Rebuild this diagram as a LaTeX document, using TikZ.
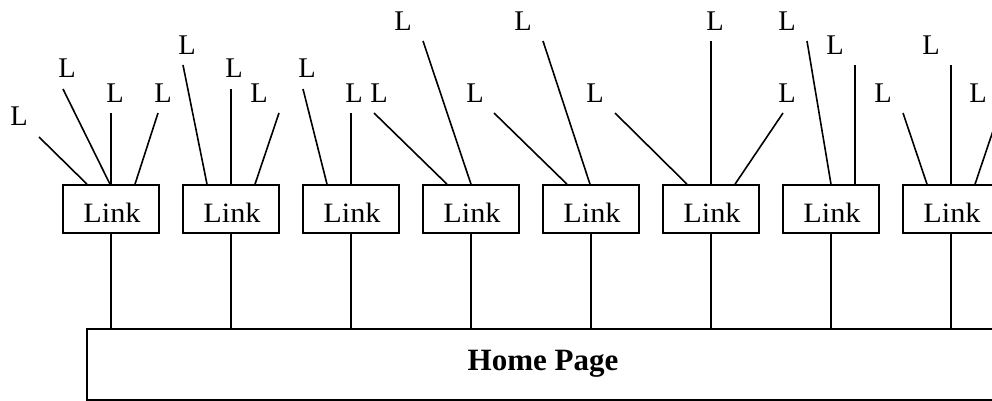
\documentclass[tikz,border=0pt]{standalone}
\usepackage{fontspec}
\setmainfont{Liberation Serif}
\begin{document}
\begin{tikzpicture}[x=1pt,y=-1pt,
  linkbox/.style={draw,line width=1.6pt,minimum width=96pt,minimum height=48pt,inner sep=0pt},
  linktext/.style={inner sep=0pt,font=\fontsize{28}{28}\selectfont},
  homebox/.style={draw,line width=1.6pt,minimum width=913pt,minimum height=71pt,inner sep=0pt},
  lbl/.style={inner sep=0pt,font=\fontsize{28.5}{28.5}\selectfont},
  leaf/.style={line width=1.6pt},
  stem/.style={line width=1.1pt}]
\useasboundingbox (0,0) rectangle (992,401);
\clip (0,0) rectangle (992,401);

% home page box (runs past the right edge)
\node[homebox] (home) at (543.5,364.5) {};
\node[inner sep=0pt,font=\fontsize{31}{31}\selectfont\bfseries] (hometext) at (543,364) {Home Page};

% link boxes
\foreach \i/\cx in {1/111,2/231,3/351,4/471,5/591,6/711,7/831,8/951}{
  \node[linkbox] (b\i) at (\cx,209) {};
  \node[linktext] (t\i) at (\cx+1,213) {\scalebox{1.08}[1]{Link}};
  \draw[stem] (b\i.south) -- (b\i.south |- home.north);
}

% leaf labels
\node[lbl] (l1a) at (19,116) {L};
\node[lbl] (l1b) at (67,68) {L};
\node[lbl] (l1c) at (115,93) {L};
\node[lbl] (l1d) at (163,93) {L};
\node[lbl] (l2a) at (187,45) {L};
\node[lbl] (l2b) at (234,68) {L};
\node[lbl] (l2c) at (259,93) {L};
\node[lbl] (l3a) at (307,68) {L};
\node[lbl] (l3b) at (354,93) {L};
\node[lbl] (l4a) at (379,93) {L};
\node[lbl] (l4b) at (403,21) {L};
\node[lbl] (l5a) at (475,93) {L};
\node[lbl] (l5b) at (523,21) {L};
\node[lbl] (l6a) at (595,93) {L};
\node[lbl] (l6b) at (715,21) {L};
\node[lbl] (l6c) at (787,93) {L};
\node[lbl] (l7a) at (787,21) {L};
\node[lbl] (l7b) at (835,45) {L};
\node[lbl] (l8a) at (883,93) {L};
\node[lbl] (l8b) at (931,45) {L};
\node[lbl] (l8c) at (978,93) {L};

% free ends of the leaf lines
\coordinate (e1a) at (39,137);
\coordinate (e1b) at (63,89);
\coordinate (e1c) at (111,113);
\coordinate (e1d) at (158,113);
\coordinate (e2a) at (183,65);
\coordinate (e2b) at (231,89);
\coordinate (e2c) at (279,113);
\coordinate (e3a) at (303,89);
\coordinate (e3b) at (351,113);
\coordinate (e4a) at (374,113);
\coordinate (e4b) at (423,41);
\coordinate (e5a) at (494,113);
\coordinate (e5b) at (543,41);
\coordinate (e6a) at (615,113);
\coordinate (e6b) at (711,41);
\coordinate (e6c) at (783,113);
\coordinate (e7a) at (807,41);
\coordinate (e7b) at (855,65);
\coordinate (e8a) at (903,113);
\coordinate (e8b) at (951,65);
\coordinate (e8c) at (999,113);

% leaf lines into the top of each link box
\draw[leaf] (e1a) -- ([xshift=-24pt]b1.north);
\draw[leaf] (e1b) -- ([xshift=-1pt]b1.north);
\draw[leaf] (e1c) -- (b1.north);
\draw[leaf] (e1d) -- ([xshift=24pt]b1.north);
\draw[leaf] (e2a) -- ([xshift=-24pt]b2.north);
\draw[leaf] (e2b) -- (b2.north);
\draw[leaf] (e2c) -- ([xshift=24pt]b2.north);
\draw[leaf] (e3a) -- ([xshift=-24pt]b3.north);
\draw[leaf] (e3b) -- (b3.north);
\draw[leaf] (e4a) -- ([xshift=-24pt]b4.north);
\draw[leaf] (e4b) -- (b4.north);
\draw[leaf] (e5a) -- ([xshift=-24pt]b5.north);
\draw[leaf] (e5b) -- ([xshift=-1pt]b5.north);
\draw[leaf] (e6a) -- ([xshift=-24pt]b6.north);
\draw[leaf] (e6b) -- (b6.north);
\draw[leaf] (e6c) -- ([xshift=24pt]b6.north);
\draw[leaf] (e7a) -- (b7.north);
\draw[leaf] (e7b) -- ([xshift=24pt]b7.north);
\draw[leaf] (e8a) -- ([xshift=-24pt]b8.north);
\draw[leaf] (e8b) -- (b8.north);
\draw[leaf] (e8c) -- ([xshift=24pt]b8.north);
\end{tikzpicture}
\end{document}
